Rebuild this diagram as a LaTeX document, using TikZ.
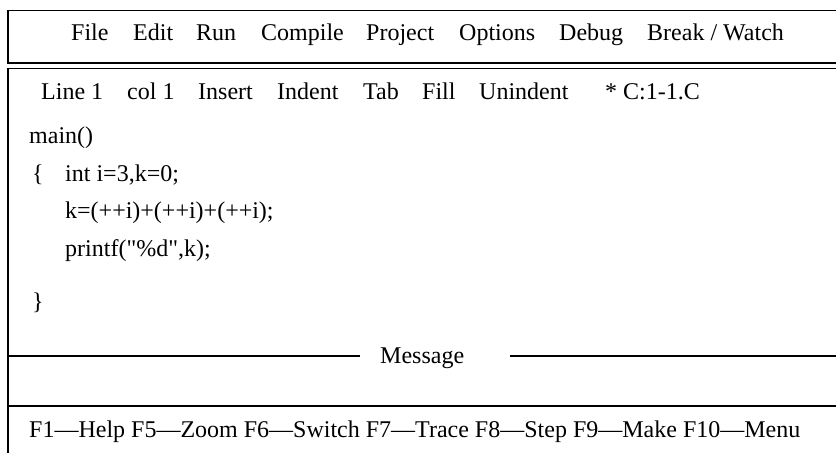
\documentclass[tikz,border=0pt]{standalone}
\usepackage{fontspec}
\setmainfont{Liberation Serif}[Ligatures=TeXOff]
\begin{document}
\begin{tikzpicture}[x=1pt,y=-1pt,
  txt/.style={anchor=base west,inner sep=0pt,font=\fontsize{24}{28}\selectfont},
  frame/.style={line width=1.6pt,black},
  thin/.style={line width=1.3pt,black}]
\useasboundingbox (0,0) rectangle (836,453);
% menu bar box
\draw[frame] (836,10.5) -- (8,10.5) -- (8,63) -- (836,63);
% editor box
\draw[frame] (836,68.5) -- (8,68.5) -- (8,453);
% message separator
\node[txt] (msg) at (380,363) {Message};
\draw[thin] (8,356) -- (360,356);
\draw[thin] (510,356) -- (836,356);
% bottom separator
\draw[thin] (8,406) -- (836,406);
% menu items
\node[txt] (m1) at (71,40.5) {File};
\node[txt] (m2) at (133,40.5) {Edit};
\node[txt] (m3) at (196,40.5) {Run};
\node[txt] (m4) at (261,40.5) {Compile};
\node[txt] (m5) at (366,40.5) {Project};
\node[txt] (m6) at (459,40.5) {Options};
\node[txt] (m7) at (559,40.5) {Debug};
\node[txt] (m8) at (647,40.5) {Break / Watch};
% status line
\node[txt] (s1) at (41,99) {Line 1};
\node[txt] (s2) at (127,99) {col 1};
\node[txt] (s3) at (198,99) {Insert};
\node[txt] (s4) at (277,99) {Indent};
\node[txt] (s5) at (363,99) {Tab};
\node[txt] (s6) at (422,99) {Fill};
\node[txt] (s7) at (479,99) {Unindent};
\node[txt] (s8) at (605,99) {* C:1-1.C};
% code
\node[txt] (c1) at (29,143.5) {main()};
\node[txt] (c2a) at (32,181) {\{};
\node[txt] (c2) at (65,181) {int i=3,k=0;};
\node[txt] (c3) at (65,218) {k=(++i)+(++i)+(++i);};
\node[txt] (c4) at (65,256) {printf("\%d",k);};
\node[txt] (c5) at (32,309) {\}};
% function keys
\node[txt] (fk) at (29,437.5) {F1—Help F5—Zoom F6—Switch F7—Trace F8—Step F9—Make F10—Menu};
\end{tikzpicture}
\end{document}
